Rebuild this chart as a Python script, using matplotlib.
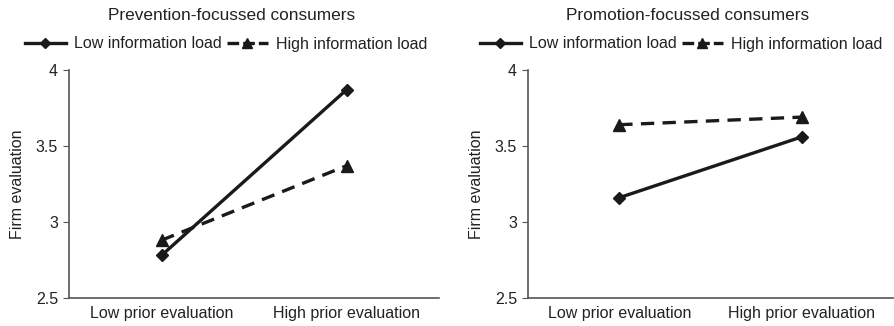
import matplotlib.pyplot as plt
from matplotlib.lines import Line2D

plt.rcParams['font.family'] = ['Liberation Sans', 'DejaVu Sans']
plt.rcParams['font.size'] = 11.5
plt.rcParams['text.color'] = '#222222'
plt.rcParams['axes.labelcolor'] = '#222222'
plt.rcParams['ytick.labelcolor'] = '#222222'
plt.rcParams['xtick.labelcolor'] = '#222222'

categories = ['Low prior evaluation', 'High prior evaluation']
panel_titles = ['Prevention-focussed consumers', 'Promotion-focussed consumers']
series_names = ['Low information load', 'High information load']
prevention_low = [2.78, 3.87]
prevention_high = [2.88, 3.37]
promotion_low = [3.16, 3.56]
promotion_high = [3.64, 3.69]
y_ticks = [2.5, 3, 3.5, 4]
y_tick_labels = ['2.5', '3', '3.5', '4']

panels = [(prevention_low, prevention_high), (promotion_low, promotion_high)]

fig = plt.figure(figsize=(8.95, 3.26), dpi=100)
W, H = 895, 326
axes_px = [(69, 439), (528, 893)]
title_x = [232, 688]
legend_x = [226, 681]
gray = '#555555'

for i, (lo, hi) in enumerate(panels):
    x0, x1 = axes_px[i]
    ax = fig.add_axes([x0 / W, (326 - 298) / H, (x1 - x0) / W, (298 - 70) / H])
    xs = range(len(categories))
    ax.plot(xs, lo, color='#1a1a1a', lw=2.4, marker='D', ms=6, label=series_names[0])
    ax.plot(xs, hi, color='#1a1a1a', lw=2.4, ls=(0, (4, 2.5)), marker='^', ms=8,
            label=series_names[1])
    ax.set_xlim(-0.5, 1.5)
    ax.set_ylim(2.5, 4)
    ax.set_yticks(y_ticks)
    ax.set_yticklabels(y_tick_labels)
    ax.set_xticks(list(xs))
    ax.set_xticklabels(categories)
    ax.tick_params(axis='x', length=0, pad=6)
    ax.tick_params(axis='y', length=4, color=gray, direction='out', pad=4)
    for s in ['top', 'right']:
        ax.spines[s].set_visible(False)
    for s in ['left', 'bottom']:
        ax.spines[s].set_color(gray)
        ax.spines[s].set_linewidth(1.2)
    ax.set_ylabel('Firm evaluation', labelpad=8)
    fig.text(title_x[i] / W, 1 - 15 / H, panel_titles[i], ha='center', va='center',
             fontsize=12.4)
    handles = [
        Line2D([], [], color='#1a1a1a', lw=2.4, marker='D', ms=5),
        Line2D([], [], color='#1a1a1a', lw=2.4, ls=(0, (3.5, 1.2)), marker='^', ms=7),
    ]
    fig.legend(handles, series_names, loc='center', ncol=2,
               bbox_to_anchor=(legend_x[i] / W, 1 - 44 / H), frameon=False,
               handlelength=2.6, handletextpad=0.5, columnspacing=0.3,
               borderaxespad=0, borderpad=0, fontsize=11.5)

fig.savefig('out.png', dpi=100)
